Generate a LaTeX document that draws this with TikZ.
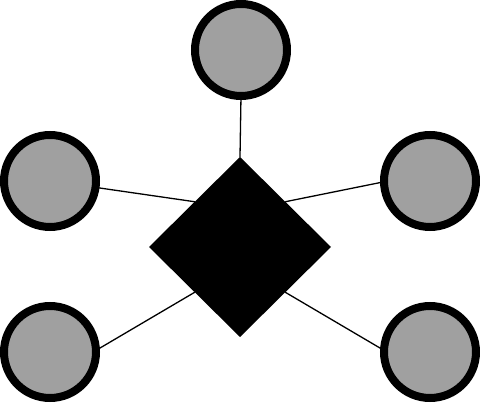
\documentclass[tikz,border=0pt]{standalone}
\usetikzlibrary{shapes.geometric}
\definecolor{nodegray}{HTML}{A0A0A0}
\tikzset{
  leaf/.style={circle,draw=black,line width=8pt,fill=nodegray,minimum size=92pt,inner sep=0pt,outer sep=0pt},
  hub/.style={diamond,fill=black,minimum width=182pt,minimum height=180pt,inner sep=0pt,outer sep=0pt},
  link/.style={line width=1.3pt,black}
}
\begin{document}
\begin{tikzpicture}[x=1pt,y=-1pt]
\useasboundingbox (0,0) rectangle (480,403);
\node[hub] (d) at (240,247) {};
\node[leaf] (t) at (241,50) {};
\node[leaf] (lm) at (50,181) {};
\node[leaf] (rm) at (430,181) {};
\node[leaf] (lb) at (50,352) {};
\node[leaf] (rb) at (430,352) {};
\draw[link] (t.south) -- (d.north);
\draw[link] (lm.-8) -- (d.135);
\draw[link] (rm.181) -- (d.45);
\draw[link] (lb.2) -- (d.225);
\draw[link] (rb.178) -- (d.-45);
\end{tikzpicture}
\end{document}
